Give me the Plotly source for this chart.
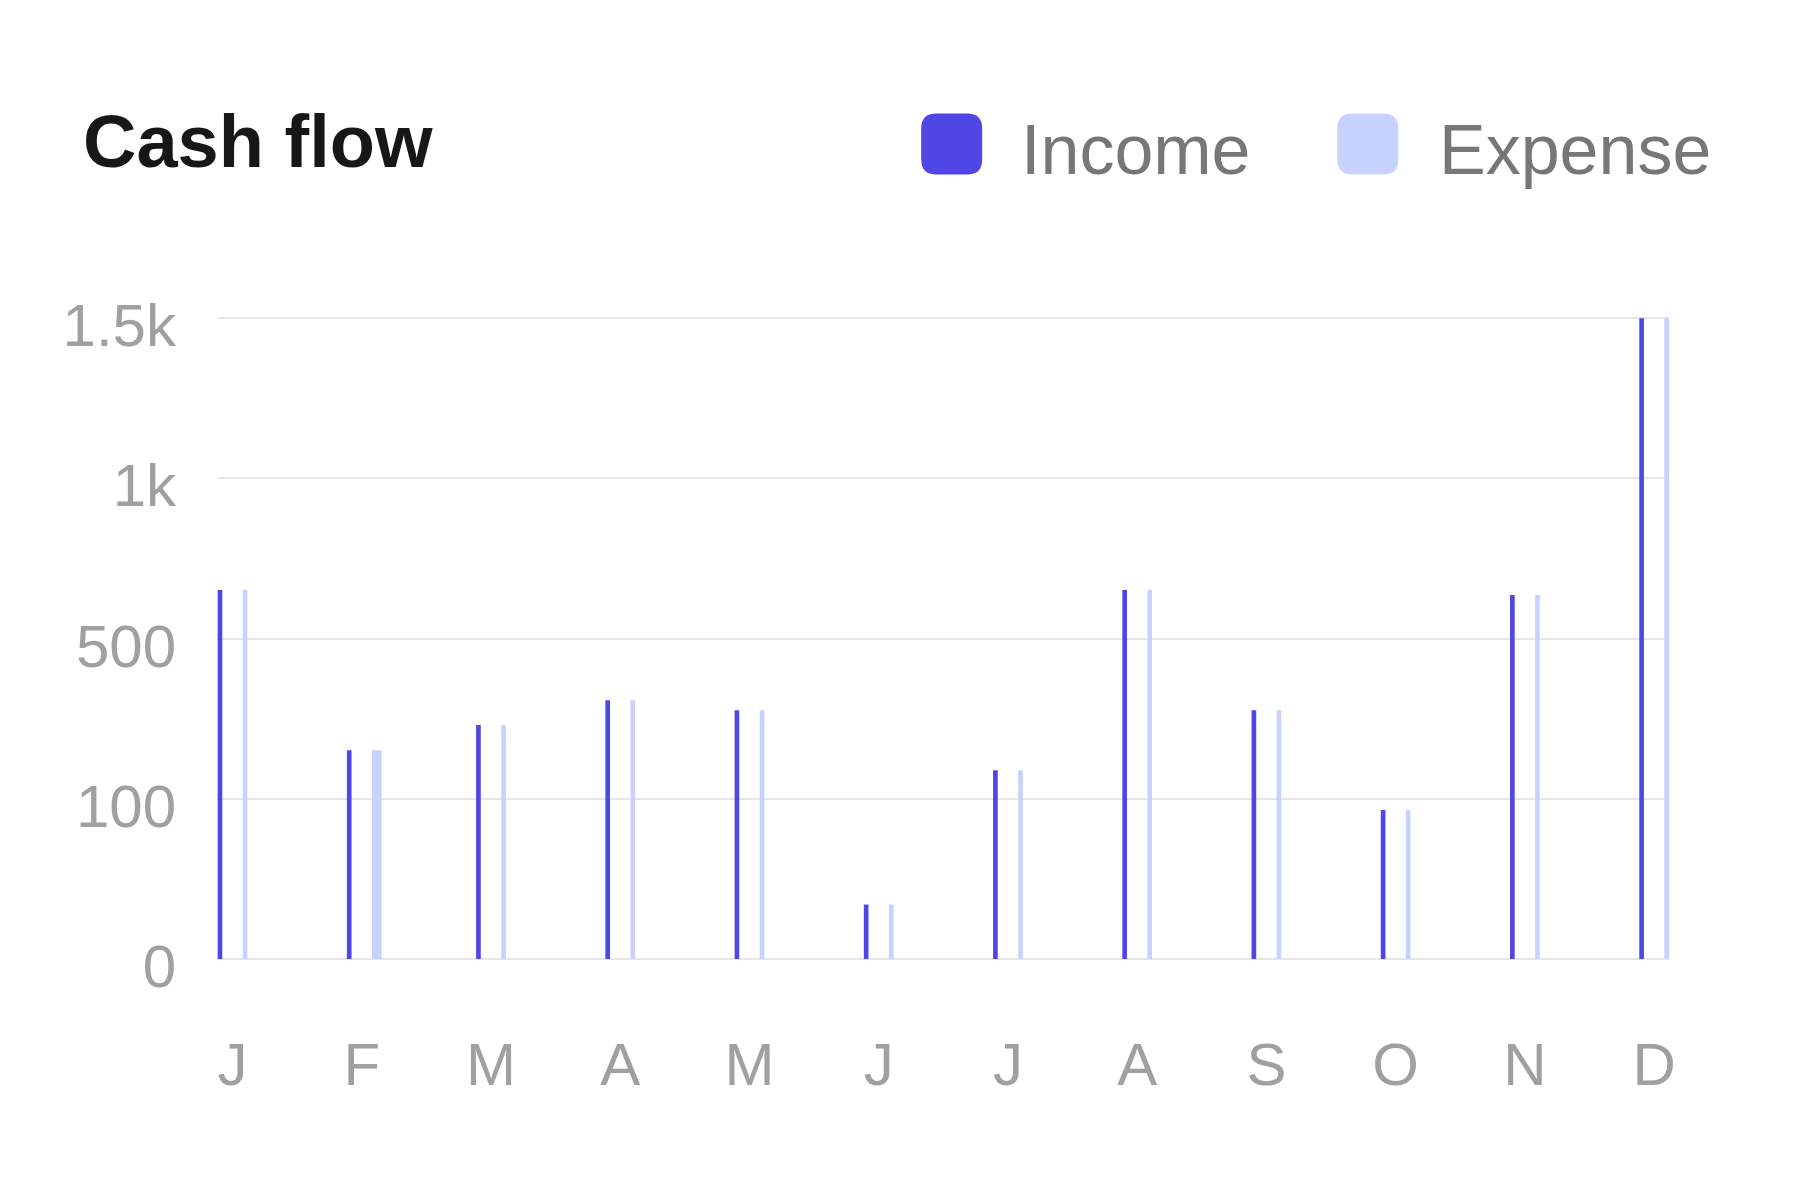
import numpy as np
import plotly.graph_objects as go

# data
months = ["Jan", "Feb", "Mar", "Apr", "May", "Jun",
          "Jul", "Aug", "Sep", "Oct", "Nov", "Dec"]
month_letters = ["J", "F", "M", "A", "M", "J", "J", "A", "S", "O", "N", "D"]
income = [652, 221, 284, 346, 321, 34, 171, 652, 321, 93, 636, 1500]
expense = [652, 221, 284, 346, 321, 34, 171, 652, 321, 93, 636, 1500]
tick_values = [0, 100, 500, 1000, 1500]
tick_labels = ["0", "100", "500", "1k", "1.5k"]

W, H = 1795, 1195
FONT = "Liberation Sans, Arial, Helvetica, sans-serif"
INCOME_C = "#4F46E5"
EXPENSE_C = "#C7D2FE"

# y axis is evenly spaced between the ticks (piecewise scale)
tick_pos = list(range(len(tick_values)))
def scale(v):
    return np.interp(v, tick_values, tick_pos)

# plot area in pixels
L, R = 209, 1660.6
T, B = 307.3, 950.7
x_lo, x_hi = -0.12, 11.115
y_lo, y_hi = 0, 4.02

def px(xp):
    return (xp - L) / (R - L)

def py(yp):
    return (B - yp) / (B - T)

def rounded_box(x0, y0, x1, y1, r):
    pts = [("M", [(x0 + r, y0)]), ("L", [(x1 - r, y0)]), ("Q", [(x1, y0), (x1, y0 + r)]),
           ("L", [(x1, y1 - r)]), ("Q", [(x1, y1), (x1 - r, y1)]),
           ("L", [(x0 + r, y1)]), ("Q", [(x0, y1), (x0, y1 - r)]),
           ("L", [(x0, y0 + r)]), ("Q", [(x0, y0), (x0 + r, y0)])]
    s = ""
    for cmd, coords in pts:
        s += cmd + " " + " ".join(f"{px(a):.5f},{py(b):.5f}" for a, b in coords) + " "
    return s + "Z"

bar_w = 0.036
expense_w = [bar_w] * len(months)
expense_w[1] = 0.075

fig = go.Figure()
fig.add_trace(go.Bar(
    x=months, y=scale(income), customdata=income, name="Income",
    marker=dict(color=INCOME_C, line=dict(width=0)),
    offset=-0.115, width=bar_w,
    hovertemplate="%{x}: %{customdata}<extra>Income</extra>",
))
fig.add_trace(go.Bar(
    x=months, y=scale(expense), customdata=expense, name="Expense",
    marker=dict(color=EXPENSE_C, line=dict(width=0)),
    offset=0.079, width=expense_w,
    hovertemplate="%{x}: %{customdata}<extra>Expense</extra>",
))

fig.update_layout(
    width=W, height=H,
    margin=dict(l=L, r=W - R, t=T, b=H - B, pad=0),
    paper_bgcolor="white", plot_bgcolor="white",
    barmode="overlay",
    showlegend=False,
    font=dict(family=FONT, color="#a0a0a0", size=60),
)
fig.update_xaxes(
    type="category", range=[x_lo, x_hi],
    tickvals=months, ticktext=month_letters,
    showgrid=False, zeroline=False, showline=False, ticks="",
    tickfont=dict(size=60, color="#a0a0a0"),
    ticklabelstandoff=65,
)
fig.update_yaxes(
    range=[y_lo, y_hi],
    tickvals=tick_pos, ticktext=tick_labels,
    showgrid=True, gridcolor="#e6e6e6", gridwidth=2,
    zeroline=True, zerolinecolor="#e6e6e6", zerolinewidth=2,
    showline=False, ticks="",
    tickfont=dict(size=60, color="#a0a0a0"),
    ticklabelstandoff=40, ticklabelshift=7,
)

# title
fig.add_annotation(
    text="<b>Cash flow</b>", xref="paper", yref="paper",
    x=px(73), y=py(134), xanchor="left", yanchor="middle",
    showarrow=False, font=dict(family=FONT, size=74, color="#171717"),
)

# legend drawn by hand: rounded swatches + labels
legend_items = [("Income", INCOME_C, 913, 1011), ("Expense", EXPENSE_C, 1329, 1429)]
for label, color, sx, tx in legend_items:
    fig.add_shape(type="path", xref="paper", yref="paper",
                  path=rounded_box(sx, 106, sx + 61, 167, 15),
                  fillcolor=color, line=dict(width=0))
    fig.add_annotation(
        text=label, xref="paper", yref="paper",
        x=px(tx), y=py(142), xanchor="left", yanchor="middle",
        showarrow=False, font=dict(family=FONT, size=70, color="#777777"),
    )

fig.write_html("out.html")
